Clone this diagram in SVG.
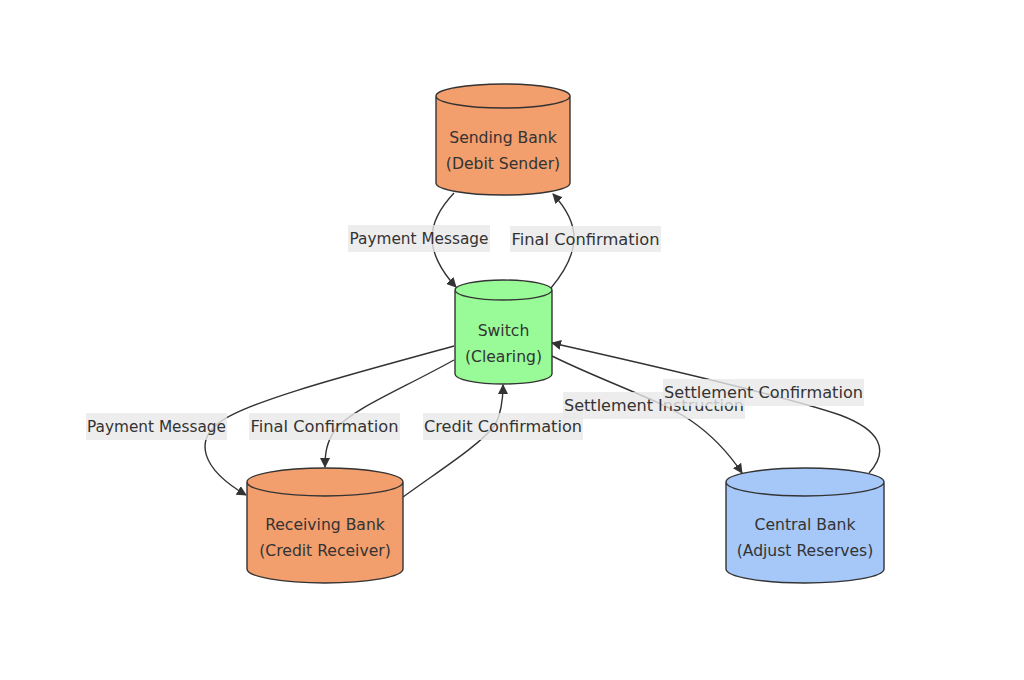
<svg xmlns="http://www.w3.org/2000/svg" width="1024" height="680" viewBox="0 0 1024 680">
<style>
.node path{stroke:#333;stroke-width:1.4}
.orange{fill:#F29E6D}
.green{fill:#98FB98}
.blue{fill:#A6C8F9}
.nt{font-family:"DejaVu Sans",Verdana,sans-serif;font-size:15.6px;fill:#333;text-anchor:middle}
.edge{fill:none;stroke:#333;stroke-width:1.4}
.lbg{fill:#e8e8e8;fill-opacity:0.8}
.lt{font-family:"DejaVu Sans",Verdana,sans-serif;font-size:15.8px;fill:#333;text-anchor:middle}
</style>
<defs>
<marker id="arr" viewBox="0 0 10 10" refX="9" refY="5" markerWidth="10" markerHeight="10" orient="auto" markerUnits="userSpaceOnUse">
<path d="M0,0 L10,5 L0,10 z" fill="#333"/>
</marker>
</defs>
<rect width="1024" height="680" fill="#fff"/>
<g id="connectors">
<path class="edge" marker-end="url(#arr)" d="M454,193 C438,210 432,225 432,238 C432,252 440,270 456,287"/>
<path class="edge" marker-end="url(#arr)" d="M551,288 C566,270 574,252 574,238 C574,224 566,208 553,194"/>
<path class="edge" marker-end="url(#arr)" d="M454,346 C360,372 250,400 220,422 C195,440 200,468 246,495"/>
<path class="edge" marker-end="url(#arr)" d="M454,360 C400,390 350,410 335,430 C326,443 325,455 325,467"/>
<path class="edge" marker-end="url(#arr)" d="M403,497 C440,470 480,445 495,425 C502,412 503,398 503,385"/>
<path class="edge" marker-end="url(#arr)" d="M552,356 C600,380 660,400 690,420 C715,437 730,455 742,473"/>
<path class="edge" marker-end="url(#arr)" d="M869,473 C890,450 880,430 840,415 C790,398 650,365 552,343"/>
</g>
<g id="labels">
<g><rect class="lbg" x="348" y="225" width="142" height="27"/><text class="lt" x="419" y="244" textLength="139" lengthAdjust="spacingAndGlyphs">Payment Message</text></g>
<g><rect class="lbg" x="510" y="226" width="151" height="26"/><text class="lt" x="585.5" y="245" textLength="148" lengthAdjust="spacingAndGlyphs">Final Confirmation</text></g>
<g><rect class="lbg" x="86" y="413" width="141" height="27"/><text class="lt" x="156.5" y="432" textLength="139" lengthAdjust="spacingAndGlyphs">Payment Message</text></g>
<g><rect class="lbg" x="249" y="413" width="151" height="27"/><text class="lt" x="324.5" y="432" textLength="148" lengthAdjust="spacingAndGlyphs">Final Confirmation</text></g>
<g><rect class="lbg" x="423" y="413" width="160" height="27"/><text class="lt" x="503" y="432" textLength="158" lengthAdjust="spacingAndGlyphs">Credit Confirmation</text></g>
<g><rect class="lbg" x="563" y="392" width="182" height="27"/><text class="lt" x="654" y="411" textLength="180" lengthAdjust="spacingAndGlyphs">Settlement Instruction</text></g>
<g><rect class="lbg" x="663" y="379" width="201" height="27"/><text class="lt" x="763.5" y="398" textLength="199" lengthAdjust="spacingAndGlyphs">Settlement Confirmation</text></g>
</g>
<g id="sending" class="node">
<path class="orange" d="M436,96 a67,12 0 0 0 134,0 a67,12 0 0 0 -134,0 l0,87 a67,12 0 0 0 134,0 l0,-87"/>
<text class="nt" x="503" y="143">Sending Bank</text>
<text class="nt" x="503" y="169">(Debit Sender)</text>
</g>
<g id="switch" class="node">
<path class="green" d="M455,290 a48.5,10 0 0 0 97,0 a48.5,10 0 0 0 -97,0 l0,84 a48.5,10 0 0 0 97,0 l0,-84"/>
<text class="nt" x="503.5" y="336">Switch</text>
<text class="nt" x="503.5" y="362">(Clearing)</text>
</g>
<g id="receiving" class="node">
<path class="orange" d="M247,482 a78,14 0 0 0 156,0 a78,14 0 0 0 -156,0 l0,87 a78,14 0 0 0 156,0 l0,-87"/>
<text class="nt" x="325" y="530">Receiving Bank</text>
<text class="nt" x="325" y="556">(Credit Receiver)</text>
</g>
<g id="central" class="node">
<path class="blue" d="M726,482 a79,14 0 0 0 158,0 a79,14 0 0 0 -158,0 l0,87 a79,14 0 0 0 158,0 l0,-87"/>
<text class="nt" x="805" y="530">Central Bank</text>
<text class="nt" x="805" y="556">(Adjust Reserves)</text>
</g>
</svg>
